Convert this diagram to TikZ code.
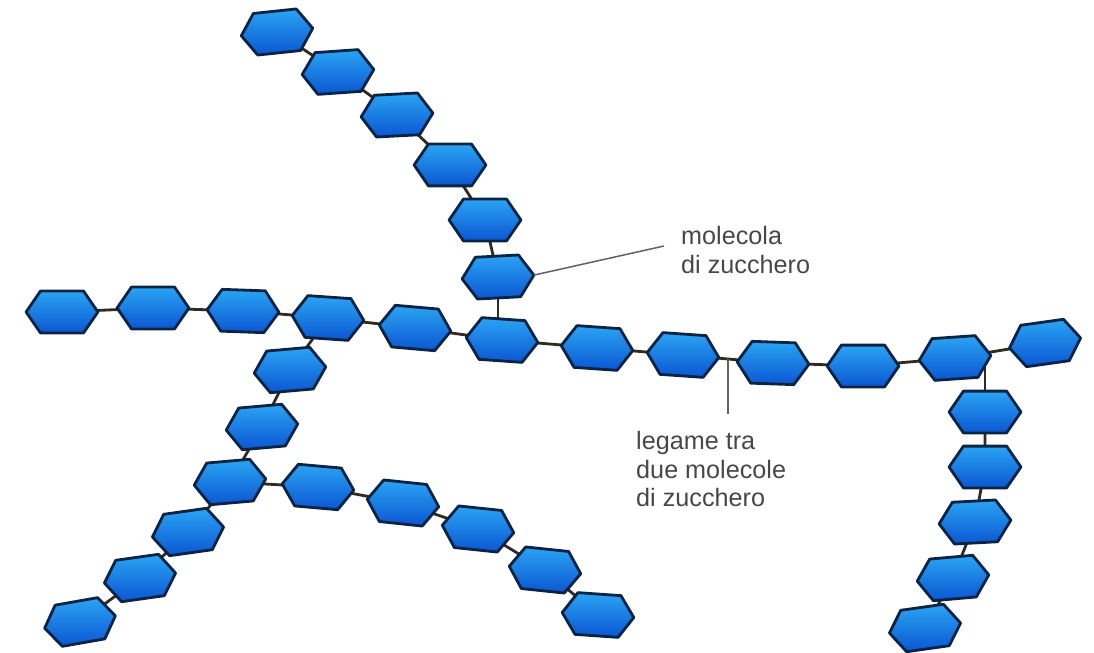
\documentclass[tikz,border=0pt]{standalone}
\usepackage{fontspec}
\setmainfont{Liberation Sans}
\usetikzlibrary{calc, backgrounds}

% flat-topped hexagon, pointed left and right
\newdimen\sugarL \newdimen\sugarR \newdimen\sugarT \newdimen\sugarB
\newdimen\sugarM \newdimen\sugarIL \newdimen\sugarIR
\makeatletter
\pgfdeclareshape{sugarhex}{
    \inheritsavedanchors[from=rectangle]
    \inheritanchorborder[from=rectangle]
    \inheritanchor[from=rectangle]{center}
    \inheritanchor[from=rectangle]{north}
    \inheritanchor[from=rectangle]{south}
    \inheritanchor[from=rectangle]{east}
    \inheritanchor[from=rectangle]{west}
    \backgroundpath{
        \southwest \sugarL=\pgf@x \sugarB=\pgf@y
        \northeast \sugarR=\pgf@x \sugarT=\pgf@y
        \sugarM=.5\sugarB \advance\sugarM by .5\sugarT
        \sugarIL=\sugarR \advance\sugarIL by -\sugarL
        \sugarIL=.2\sugarIL
        \sugarIR=\sugarR \advance\sugarIR by -\sugarIL
        \advance\sugarIL by \sugarL
        \pgfpathmoveto{\pgfqpoint{\sugarL}{\sugarM}}
        \pgfpathlineto{\pgfqpoint{\sugarIL}{\sugarT}}
        \pgfpathlineto{\pgfqpoint{\sugarIR}{\sugarT}}
        \pgfpathlineto{\pgfqpoint{\sugarR}{\sugarM}}
        \pgfpathlineto{\pgfqpoint{\sugarIR}{\sugarB}}
        \pgfpathlineto{\pgfqpoint{\sugarIL}{\sugarB}}
        \pgfpathclose
    }
}
\makeatother

\newlength{\hexwidth}
\setlength{\hexwidth}{2.07cm}
\newlength{\hexheight}
\setlength{\hexheight}{1.17cm}
\definecolor{sugartop}{HTML}{2AA4F3}
\definecolor{sugarmid}{HTML}{1A93F0}
\definecolor{sugarbot}{HTML}{0B56D2}
\definecolor{sugaredge}{HTML}{0B2443}
\definecolor{bondcol}{HTML}{33291F}
\definecolor{notegray}{HTML}{474747}
\tikzstyle{sugar} = [sugarhex, minimum width=\hexwidth, minimum height=\hexheight, inner sep=0pt, draw=sugaredge, line width=2.4pt, line join=round, top color=sugartop, middle color=sugarmid, bottom color=sugarbot]
\tikzstyle{bond} = [draw=bondcol, line width=2.4pt]
\tikzstyle{pointer} = [draw=notegray!85, line width=1.3pt]
\tikzstyle{note} = [anchor=west, inner sep=0pt, align=left, text=notegray, font=\fontsize{21.5}{24}\selectfont]

\begin{document}
\begin{tikzpicture}[x=0.03cm, y=-0.03cm]
    \useasboundingbox (0,0) rectangle (1094,653);

    % Main chain
    \node (m1) [sugar] at (62,312) {};
    \node (m2) [sugar] at (153,308) {};
    \node (m3) [rotate=-2, sugar] at (243,311) {};
    \node (m4) [rotate=-4, sugar] at (328,318) {};
    \node (m5) [rotate=-5, sugar] at (415,328) {};
    \node (m6) [rotate=-4, sugar] at (502,340) {};
    \node (m7) [rotate=-4, sugar] at (597,348) {};
    \node (m8) [rotate=-4, sugar] at (683,355) {};
    \node (m9) [rotate=-2, sugar] at (773,363) {};
    \node (m10) [sugar] at (863,366) {};
    \node (m11) [rotate=4, sugar] at (955,358) {};
    \node (m12) [rotate=8, sugar] at (1045,343) {};

    % Chain going up from m6
    \node (t1) [rotate=6, sugar] at (277,32) {};
    \node (t2) [rotate=4, sugar] at (338,72) {};
    \node (t3) [rotate=3, sugar] at (397,115) {};
    \node (t4) [sugar] at (450,165) {};
    \node (t5) [sugar] at (485,220) {};
    \node (t6) [rotate=3, sugar] at (498,277) {};

    % Chain going down-left from m4
    \node (l1) [rotate=5, sugar] at (290,370) {};
    \node (l2) [rotate=5, sugar] at (262,427) {};
    \node (l3) [rotate=5, sugar] at (230,482) {};
    \node (l4) [rotate=8, sugar] at (188,532) {};
    \node (l5) [rotate=8, sugar] at (140,578) {};
    \node (l6) [rotate=10, sugar] at (80,622) {};

    % Branch off l3
    \node (r1) [rotate=-5, sugar] at (318,487) {};
    \node (r2) [rotate=-6, sugar] at (403,503) {};
    \node (r3) [rotate=-6, sugar] at (478,529) {};
    \node (r4) [rotate=-6, sugar] at (545,570) {};
    \node (r5) [rotate=-4, sugar] at (598,615) {};

    % Chain going down from m11
    \node (d1) [sugar] at (985,412) {};
    \node (d2) [sugar] at (985,467) {};
    \node (d3) [rotate=3, sugar] at (975,522) {};
    \node (d4) [rotate=5, sugar] at (953,578) {};
    \node (d5) [rotate=8, sugar] at (925,628) {};

    % Bonds (behind the rings)
    \begin{scope}[on background layer]
        \draw [bond] (m1.center) -- (m2.center) -- (m3.center) -- (m4.center) -- (m5.center) -- (m6.center) -- (m7.center) -- (m8.center) -- (m9.center) -- (m10.center) -- (m11.center) -- (m12.center);
        \draw [bond] (t1.center) -- (t2.center) -- (t3.center) -- (t4.center) -- (t5.center) -- (t6.center);
        \draw [bond] (t6.center) -- (t6.center |- m6.center);
        \draw [bond] (m4.center) -- (l1.center) -- (l2.center) -- (l3.center) -- (l4.center) -- (l5.center) -- (l6.center);
        \draw [bond] (l3.center) -- (r1.center) -- (r2.center) -- (r3.center) -- (r4.center) -- (r5.center);
        \draw [bond] (d1.center) -- (d1.center |- m11.center);
        \draw [bond] (d1.center) -- (d2.center) -- (d3.center) -- (d4.center) -- (d5.center);
    \end{scope}

    % Labels
    \node (mol) [note] at (681,250) {molecola\\di zucchero};
    \node (leg) [note] at (636,469) {legame tra\\due molecole\\di zucchero};

    \coordinate (moltip) at (664,246);
    \coordinate (bondmid) at ($(m8)!0.5!(m9)$);
    \coordinate (legtip) at (728,414);
    \draw [pointer] (t6.east) -- (moltip);
    \draw [pointer] (bondmid) -- (bondmid |- legtip);

\end{tikzpicture}
\end{document}
